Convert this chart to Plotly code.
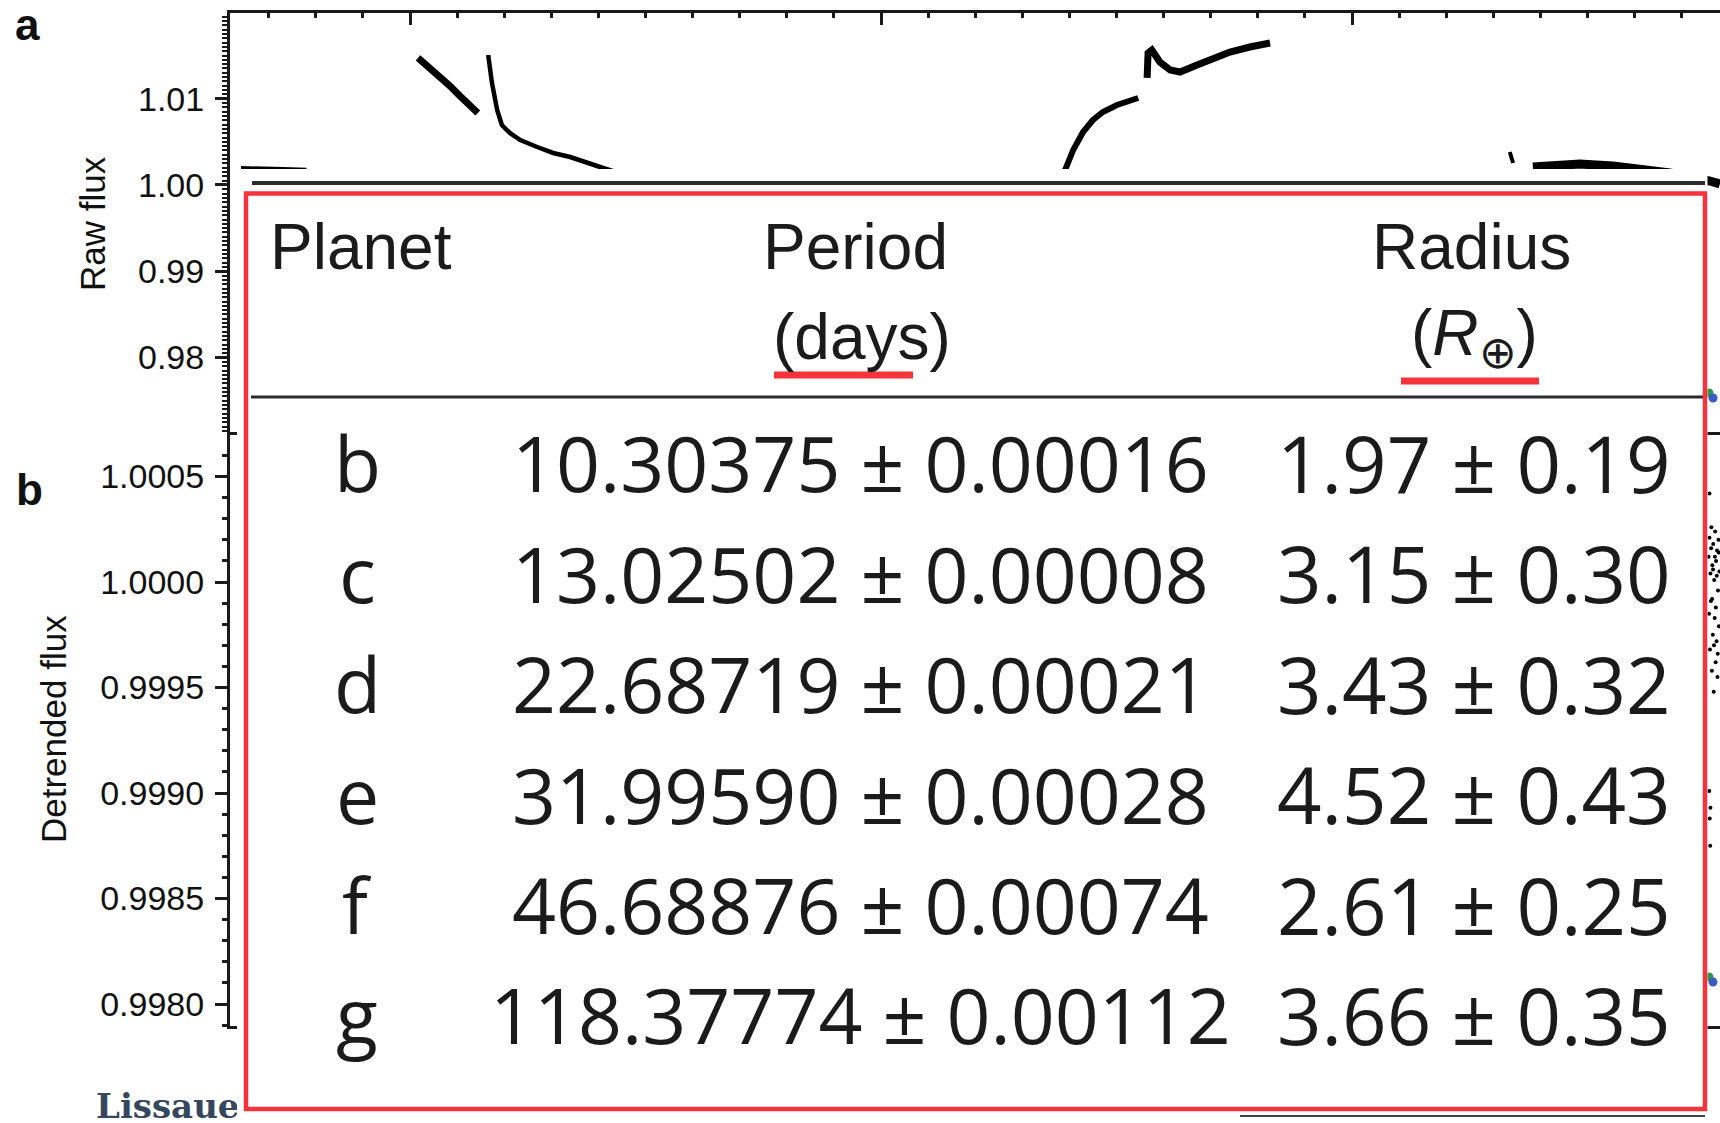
import plotly.graph_objects as go

W, H = 1720, 1123

# ---- Kepler-11 planet table ----
planets = ["b", "c", "d", "e", "f", "g"]
period_days = [10.30375, 13.02502, 22.68719, 31.99590, 46.68876, 118.37774]
period_err = [0.00016, 0.00008, 0.00021, 0.00028, 0.00074, 0.00112]
radius_earth = [1.97, 3.15, 3.43, 4.52, 2.61, 3.66]
radius_err = [0.19, 0.30, 0.32, 0.43, 0.25, 0.35]

# ---- panel a: raw flux segments (time in BJD - 2,455,000) ----
q1_time = [-35.9, -31.4, -26.8, -22.0]
q1_flux = [1.0019, 1.0019, 1.0018, 1.0017]
seg_a_time = [1.7, 3.2, 4.7, 6.4, 8.5, 10.6, 12.7, 14.4]
seg_a_flux = [1.01472, 1.01402, 1.01333, 1.01251, 1.01147, 1.01031, 1.00915, 1.00834]
seg_b_time = [16.6, 17.4, 18.5, 19.5, 21.2, 23.4, 27.0, 30.4, 34.0, 37.6, 41.0, 45.6]
seg_b_flux = [1.01506, 1.01182, 1.00869, 1.00695, 1.00603, 1.00521, 1.00440,
              1.00371, 1.00324, 1.00255, 1.00197, 1.00116]
seg_c_time = [138.0, 139.1, 140.8, 142.9, 145.0, 147.1, 150.1, 152.9, 154.6]
seg_c_flux = [1.00058, 1.00174, 1.00406, 1.00614, 1.00753, 1.00846, 1.00927, 1.00985, 1.01008]
seg_d_time = [156.5, 156.7, 157.5, 159.2, 161.4, 163.5, 167.1, 170.5, 174.1, 178.3, 182.6]
seg_d_flux = [1.01240, 1.01530, 1.01564, 1.01425, 1.01333, 1.01309, 1.01390,
              1.01472, 1.01541, 1.01599, 1.01645]
seg_e_time = [233.5, 234.2]
seg_e_flux = [1.00382, 1.00255]
seg_f_time = [238.4, 244.8, 248.4, 255.4, 262.6, 267.5, 276.0, 278.1]
seg_f_flux = [1.00209, 1.00243, 1.00243, 1.00220, 1.00174, 1.00139, 1.00046, 1.00012]

# ---- panel b: detrended flux ----
det_time = [275.7, 275.8, 275.9, 276.0, 276.1, 276.2, 276.3, 276.4, 276.5, 276.6,
            276.7, 276.8, 276.9, 277.0, 277.1, 277.2, 277.3, 277.4, 277.5, 277.6,
            277.7, 277.8, 277.9, 278.0, 275.9, 275.85, 275.95, 276.05, 276.1,
            276.25, 276.45, 276.65, 276.85, 277.05, 277.25, 277.45, 277.65, 277.85]
det_flux = [1.00012, 0.99985, 1.00021, 0.99968, 1.00004, 0.99991, 1.00026, 0.99958,
            1.00008, 0.99975, 1.00018, 0.99948, 1.00001, 0.99983, 1.00024, 0.99962,
            1.00010, 0.99972, 1.00015, 0.99955, 0.99996, 1.00020, 0.99979, 1.00005,
            1.00042, 0.99901, 0.99888, 0.99875, 0.99893,
            1.00016, 0.99992, 1.00006, 0.99970, 1.00012, 0.99988, 1.00003, 0.99966, 1.00014]

# transit markers
marker_time = [275.8, 276.65]
marker_colors = ["#2e9a45", "#3b5bc4"]
raw_marker_flux = [0.97590, 0.97532]
det_marker_flux = [0.998128, 0.998104]

INK = "#1a1a1a"
RED = "#f5333b"
AXIS_FONT = "Liberation Sans"


def px(x):
    return x / W


def py(y):
    return 1 - y / H


fig = go.Figure()

raw_segments = [
    (q1_time, q1_flux, 5),
    (seg_a_time, seg_a_flux, 7),
    (seg_b_time, seg_b_flux, 4.5),
    (seg_c_time, seg_c_flux, 6),
    (seg_d_time, seg_d_flux, 7),
    (seg_e_time, seg_e_flux, 4),
    (seg_f_time, seg_f_flux, 9),
]
for t, f, w in raw_segments:
    fig.add_trace(go.Scatter(x=t, y=f, mode="lines", xaxis="x", yaxis="y",
                             line=dict(color="black", width=w), hoverinfo="skip"))

fig.add_trace(go.Scatter(x=det_time, y=det_flux, mode="markers", xaxis="x2", yaxis="y2",
                         marker=dict(color="black", size=4), hoverinfo="skip"))

fig.add_trace(go.Scatter(x=marker_time, y=raw_marker_flux, mode="markers", xaxis="x", yaxis="y",
                         marker=dict(color=marker_colors, size=9), hoverinfo="skip"))
fig.add_trace(go.Scatter(x=marker_time, y=det_marker_flux, mode="markers", xaxis="x2", yaxis="y2",
                         marker=dict(color=marker_colors, size=9), hoverinfo="skip"))

# citation line at the bottom of the slide (partly covered by the table)
fig.add_trace(go.Scatter(x=[96], y=[1109], mode="text", xaxis="x3", yaxis="y3",
                         text=["<b>Lissauer et al. (2011)</b>"], textposition="middle right",
                         textfont=dict(family="DejaVu Serif", size=34, color="#34475f"),
                         hoverinfo="skip"))

x_dom = [px(230), 1.0]
a_dom = [py(435), py(13)]
b_dom = [py(1026), py(435)]
t_range = [-38.22, 278.13]

common_x = dict(range=t_range, showline=True, linecolor=INK, linewidth=3,
                ticks="inside", ticklen=12, tickwidth=2.5, tickcolor=INK,
                tick0=0, dtick=100, showticklabels=False, showgrid=False, zeroline=False,
                minor=dict(ticks="inside", ticklen=5, tickwidth=2.5, tickcolor=INK,
                           dtick=10, showgrid=False),
                fixedrange=True)
common_y = dict(showline=True, linecolor=INK, linewidth=3,
                ticks="outside", ticklen=12, tickwidth=2.5, tickcolor=INK,
                showgrid=False, zeroline=False, ticklabelstandoff=4,
                tickfont=dict(family=AXIS_FONT, size=34, color="#111111"),
                fixedrange=True)

fig.update_layout(
    width=W, height=H,
    margin=dict(l=0, r=0, t=0, b=0),
    paper_bgcolor="white", plot_bgcolor="rgba(0,0,0,0)",
    showlegend=False,
    xaxis=dict(domain=x_dom, anchor="y", side="top", **common_x),
    yaxis=dict(domain=a_dom, anchor="x", range=[0.97103, 1.01993],
               tick0=1.0, dtick=0.01, tickformat=".2f",
               minor=dict(ticks="outside", ticklen=5, tickwidth=2, tickcolor=INK,
                          dtick=0.0005, showgrid=False),
               **common_y),
    xaxis2=dict(domain=x_dom, anchor="y2", side="bottom", mirror=True, **common_x),
    yaxis2=dict(domain=b_dom, anchor="x2", range=[0.997896, 1.000697],
                tick0=1.0, dtick=0.0005, tickformat=".4f",
                minor=dict(ticks="outside", ticklen=5, tickwidth=2.5, tickcolor=INK,
                           dtick=0.0001, showgrid=False),
                **common_y),
    xaxis3=dict(domain=[0, 1], range=[0, W], visible=False, fixedrange=True),
    yaxis3=dict(domain=[0, 1], range=[H, 0], visible=False, fixedrange=True, anchor="x3"),
)

shapes = [
    # table background
    dict(type="rect", xref="paper", yref="paper", x0=px(237), x1=px(1707.5),
         y0=0, y1=py(169), fillcolor="white", line=dict(width=0), layer="above"),
    # top rule
    dict(type="line", xref="paper", yref="paper", x0=px(252), x1=px(1705),
         y0=py(183), y1=py(183), line=dict(color="#2b2b2b", width=4), layer="above"),
    # header rule
    dict(type="line", xref="paper", yref="paper", x0=px(251), x1=px(1705),
         y0=py(397), y1=py(397), line=dict(color="#2b2b2b", width=3), layer="above"),
    # bottom rule
    dict(type="line", xref="paper", yref="paper", x0=px(1240), x1=px(1705),
         y0=py(1116), y1=py(1116), line=dict(color="#444444", width=2), layer="above"),
    # red frame
    dict(type="rect", xref="paper", yref="paper", x0=px(246), x1=px(1705),
         y0=py(1109), y1=py(193.5), line=dict(color=RED, width=4.5), layer="above"),
    # red underlines of the unit labels
    dict(type="line", xref="paper", yref="paper", x0=px(774), x1=px(913),
         y0=py(375), y1=py(375), line=dict(color=RED, width=7), layer="above"),
    dict(type="line", xref="paper", yref="paper", x0=px(1401), x1=px(1539),
         y0=py(381), y1=py(381), line=dict(color=RED, width=7), layer="above"),
]

annotations = []


def label(text, x, y, size, family=AXIS_FONT, xanchor="center", color="#111111", angle=0):
    annotations.append(dict(text=text, x=px(x), y=py(y), xref="paper", yref="paper",
                            xanchor=xanchor, yanchor="middle", showarrow=False,
                            textangle=angle,
                            font=dict(family=family, size=size, color=color)))


# panel letters and axis titles
label("<b>a</b>", 27, 24, 44)
label("<b>b</b>", 29, 489, 44)
label("Raw flux", 92, 224, 35, angle=-90)
label("Detrended flux", 54, 729, 35, angle=-90)

# table header
HEAD = "#1b1b1b"
label("Planet", 268, 247, 64, xanchor="left", color=HEAD)
label("Period", 855, 247, 64, color=HEAD)
label("(days)", 862, 337, 64, color=HEAD)
label("Radius", 1471, 247, 64, color=HEAD)
label("(<i>R</i><sub>⊕</sub>)", 1474, 337, 64, color=HEAD)

# table rows
ROW_FONT = "Open Sans"
row_y0, row_step = 463, 110.4
for i, name in enumerate(planets):
    yy = row_y0 + i * row_step
    label(name, 357, yy, 77, family=ROW_FONT, color=HEAD)
    label(f"{period_days[i]:.5f} ± {period_err[i]:.5f}", 861, yy, 77,
          family=ROW_FONT, color=HEAD)
    label(f"{radius_earth[i]:.2f} ± {radius_err[i]:.2f}", 1474, yy, 78,
          family=ROW_FONT, color=HEAD)

fig.update_layout(shapes=shapes, annotations=annotations)

fig.write_html("out.html")
